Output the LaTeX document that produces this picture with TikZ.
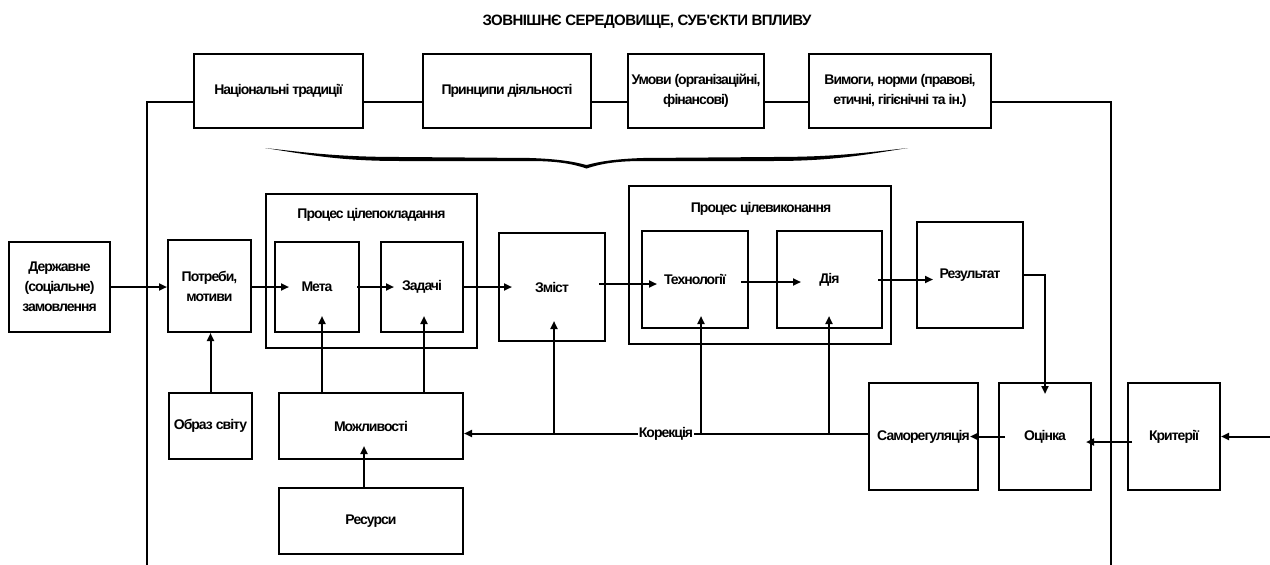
\documentclass[tikz,border=0pt]{standalone}
\usepackage{fontspec}
\setmainfont{Liberation Sans}[LetterSpace=-7]
\newfontfamily\ttlfont{Liberation Sans}[LetterSpace=-3.8]
\usetikzlibrary{arrows.meta,calc}
\begin{document}
\begin{tikzpicture}[x=1pt,y=-1pt,
  every node/.style={font=\fontsize{14}{20}\selectfont\bfseries, align=center, inner sep=0pt},
  bx/.style n args={2}{draw, line width=2pt, minimum width=#1pt, minimum height=#2pt},
  ln/.style={line width=2pt},
  ar/.style={line width=2pt, -{Triangle[length=8pt,width=7pt]}}]
\useasboundingbox (0,0) rectangle (1270,565);

% title
\node[font=\ttlfont\fontsize{15}{18}\selectfont\bfseries] (title) at (647,22) {ЗОВНІШНЄ СЕРЕДОВИЩЕ, СУБ'ЄКТИ ВПЛИВУ};

% top boxes
\node[bx={169}{74}] (t1) at (278.5,91) {Національні традиції};
\node[bx={168}{74}] (t2) at (507,91) {Принципи діяльності};
\node[bx={136}{74}] (t3) at (696,91) {Умови (організаційні,\\фінансові)};
\node[bx={182}{74}] (t4) at (900,91) {Вимоги, норми (правові,\\етичні, гігієнічні та ін.)};

% environment frame
\coordinate (L1) at (147,102);
\coordinate (eL) at (147,565);
\coordinate (eR) at (1111,565);
\draw[ln] (eL) |- (t1.west |- L1);
\draw[ln] (t1.east |- L1) -- (t2.west |- L1);
\draw[ln] (t2.east |- L1) -- (t3.west |- L1);
\draw[ln] (t3.east |- L1) -- (t4.west |- L1);
\draw[ln] (t4.east |- L1) -| (eR);

% brace
\fill (265,148) .. controls (310,153) and (340,157) .. (400,157)
  -- (530,158) .. controls (560,159) and (575,162) .. (586.5,165)
  .. controls (598,162) and (613,159) .. (643,158)
  -- (773,157) .. controls (833,157) and (863,153) .. (908,148)
  .. controls (863,155) and (833,161) .. (773,161)
  -- (643,161) .. controls (615,161) and (600,164) .. (586.5,168.5)
  .. controls (573,164) and (558,161) .. (530,161)
  -- (400,161) .. controls (340,161) and (310,155) .. (265,148) -- cycle;

% main row
\node[bx={101}{90}] (dz) at (59.5,287) {Державне\\(соціальне)\\замовлення};
\node[bx={83}{92}] (pm) at (209.5,286) {Потреби,\\мотиви};
\node[bx={211}{154}] (gp) at (371.5,271) {};
\node (gpt) at (371.5,215) {Процес цілепокладання};
\node[bx={84}{90}] (meta) at (317,287) {Мета};
\node[bx={82}{90}] (zad) at (422,287) {Задачі};
\node[bx={106}{108}] (zm) at (552,287) {Зміст};
\node[bx={262}{158}] (ge) at (760,265) {};
\node (get) at (761,209) {Процес цілевиконання};
\node[bx={106}{97}] (tech) at (695,279.5) {Технології};
\node[bx={105}{97}] (dia) at (829.5,279.5) {Дія};
\node[bx={106}{106}] (res) at (970,275) {Результат};

% bottom row
\node[bx={83}{66}] (os) at (210.5,426) {Образ світу};
\node[bx={184}{66}] (mo) at (371,426) {Можливості};
\node[bx={184}{66}] (rs) at (371,521) {Ресурси};
\node[bx={109}{107}] (sr) at (923.5,436.5) {Саморегуляція};
\node[bx={92}{107}] (oc) at (1045,436.5) {Оцінка};
\node[bx={92}{107}] (kr) at (1174,436.5) {Критерії};

% arrows main row
\draw[ar] (dz.east) -- (dz.east -| pm.west);
\draw[ar] (meta.west -| pm.east) -- ([xshift=15pt]meta.west);
\draw[ar] ([xshift=-3pt]meta.east) -- ([xshift=14pt]zad.west);
\draw[ar] (zad.east) -- ([xshift=14pt]zm.west);
\draw[ar] ([xshift=-7pt,yshift=3pt]zm.east) -- ([xshift=16pt,yshift=-4.5pt]tech.west);
\draw[ar] ([xshift=-8pt,yshift=-2.5pt]tech.east) -- ([xshift=25pt,yshift=-2.5pt]dia.west);
\draw[ar] ([xshift=-5pt]dia.east) -- ([xshift=17pt,yshift=-4.5pt]res.west);
\draw[ar] (res.east) -| ([yshift=-12pt]oc.north);

% right side
\coordinate (kin) at (1270,436.5);
\draw[ar] (kin) -- (kr.east);
\draw[ar] ([xshift=5pt,yshift=-5.5pt]kr.west) -- ([xshift=-6pt,yshift=-5.5pt]oc.east);
\draw[ar] ([xshift=7pt]oc.west) -- ([xshift=-9pt]sr.east);

% correction line
\coordinate (kline) at (0,433.5);
\draw[ar] (sr.west |- kline) -- (mo.east |- kline)
  node[pos=0.5, fill=white, inner sep=0.5pt] (kor) {Корекція};
\draw[ar] ([xshift=2pt]zm.south |- kline) -- ([xshift=2pt,yshift=21pt]zm.south);
\draw[ar] ([xshift=6pt,yshift=-105.5pt]tech.south) -- ([xshift=6pt,yshift=13pt]tech.south);
\draw[ar] ([xshift=-0.5pt,yshift=-105.5pt]dia.south) -- ([xshift=-0.5pt,yshift=13pt]dia.south);

% bottom arrows
\draw[ar] (os.north) -- (os.north |- pm.south);
\draw[ar] ([xshift=5pt,yshift=-61pt]meta.south) -- ([xshift=5pt,yshift=17pt]meta.south);
\draw[ar] ([xshift=2pt,yshift=-61pt]zad.south) -- ([xshift=2pt,yshift=17pt]zad.south);
\draw[ar] ([xshift=-7pt]rs.north) -- ([xshift=-7pt,yshift=14pt]mo.south);
\end{tikzpicture}
\end{document}
